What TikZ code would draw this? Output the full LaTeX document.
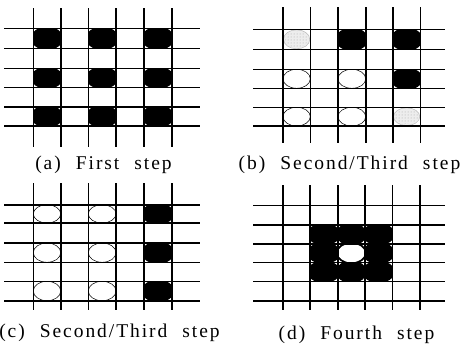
\documentclass[tikz,border=0pt]{standalone}
\usepackage{fontspec}
\setmainfont{Liberation Serif}[LetterSpace=10,WordSpace=2.2]
\usetikzlibrary{calc,patterns}
\tikzset{
  gridline/.style={line width=1.6pt},
  whitecell/.style={draw=black,line width=0.5pt,fill=white},
  greycell/.style={draw=gray!55,line width=0.5pt,fill=gray!14},
  caption/.style={font=\fontsize{19.5}{22}\selectfont, inner sep=0pt}
}
\newcommand\cellB[4]{%
  \begin{scope}
    \clip (#1,#2) rectangle (#3,#4);
    \fill[black] ({(#1+#3)/2},{(#2+#4)/2}) ellipse [x radius={1.17*(#3-#1)/2*1pt}, y radius={1.17*(#4-#2)/2*1pt}];
  \end{scope}}
\newcommand\cellW[4]{%
  \path[whitecell] ({(#1+#3)/2},{(#2+#4)/2}) ellipse [x radius={(#3-#1)/2*1pt}, y radius={(#4-#2)/2*1pt}];}
\newcommand\cellG[4]{%
  \path[greycell] ({(#1+#3)/2},{(#2+#4)/2}) ellipse [x radius={(#3-#1)/2*1pt-0.5pt}, y radius={(#4-#2)/2*1pt-0.5pt}];
  \path[pattern=dots, pattern color=gray!70] ({(#1+#3)/2},{(#2+#4)/2}) ellipse [x radius={(#3-#1)/2*1pt-2pt}, y radius={(#4-#2)/2*1pt-2pt}];}
\begin{document}
\begin{tikzpicture}[x=1pt,y=-1pt]
\useasboundingbox (0,0) rectangle (466,346);
% ---------- (a) ----------
\foreach \ya/\yb in {28.3/48.3, 68.3/87.3, 106.7/126}{
  \foreach \xa/\xb in {33.3/60.7, 88.3/116, 144/171.7}{
    \cellB{\xa}{\ya}{\xb}{\yb}
  }
}
\foreach \x in {33.3,60.7,88.3,116,144,171.7} \draw[gridline] (\x,8.3) -- (\x,146.7);
\foreach \y in {28.3,48.3,68.3,87.3,106.7,126} \draw[gridline] (4,\y) -- (200,\y);
\node[caption] (capa) at (103.5,165) {(a) First step};
% ---------- (b) ----------
\cellG{283}{29.3}{310.3}{49.3}
\cellB{338}{29.3}{365.7}{49.3}
\cellB{393}{29.3}{420.3}{49.3}
\cellW{283}{69.3}{310.3}{88.3}
\cellW{338}{69.3}{365.7}{88.3}
\cellB{393}{69.3}{420.3}{88.3}
\cellW{283}{107.3}{310.3}{126}
\cellW{338}{107.3}{365.7}{126}
\cellG{393}{107.3}{420.3}{126}
\foreach \x in {283,310.3,338,365.7,393,420.3} \draw[gridline] (\x,7) -- (\x,143);
\foreach \y in {29.3,49.3,69.3,88.3,107.3,126} \draw[gridline] (253,\y) -- (445,\y);
\node[caption] (capb) at (349.5,165) {(b) Second/Third step};
% ---------- (c) ----------
\foreach \ya/\yb in {204.7/223, 243/262.3, 281.3/300.7}{
  \cellW{33.3}{\ya}{60.7}{\yb}
  \cellW{88.3}{\ya}{116}{\yb}
  \cellB{144}{\ya}{171.7}{\yb}
}
\foreach \x in {33.3,60.7,88.3,116,144,171.7} \draw[gridline] (\x,183) -- (\x,310);
\foreach \y in {204.7,223,243,262.3,281.3,300.7} \draw[gridline] (4,\y) -- (200,\y);
\node[caption] (capc) at (109.5,333) {(c) Second/Third step};
% ---------- (d) ----------
\foreach \ya/\yb in {224.7/243.7, 243.7/262.3, 262.3/281.3}{
  \foreach \xa/\xb in {309.7/338, 338/364.7, 364.7/392.3}{
    \cellB{\xa}{\ya}{\xb}{\yb}
  }
}
\fill[white] ({(338+364.7)/2},{(243.7+262.3)/2}) ellipse [x radius=13.35pt, y radius=9.3pt];
\foreach \x in {283,309.7,338,364.7,392.3,419.7} \draw[gridline] (\x,185) -- (\x,310);
\foreach \y in {205.3,224.7,243.7,262.3,281.3,300.7} \draw[gridline] (253,\y) -- (445,\y);
\node[caption] (capd) at (356.5,335) {(d) Fourth step};
\end{tikzpicture}
\end{document}
